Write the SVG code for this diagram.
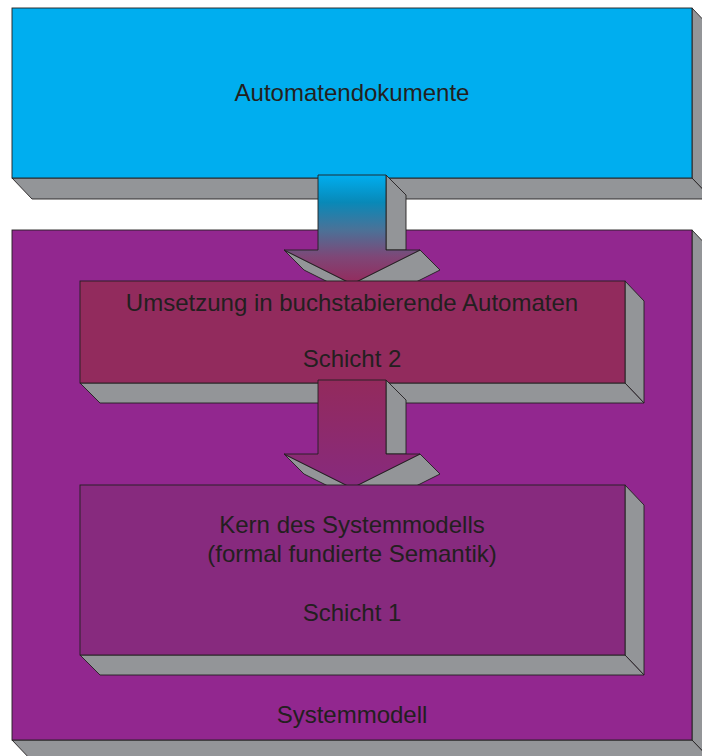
<svg xmlns="http://www.w3.org/2000/svg" width="702" height="756" viewBox="0 0 702 756">
<style>
.s{stroke:#231F20;stroke-width:0.9;stroke-linejoin:miter}
.side{fill:#939598}
.t{font-family:"Liberation Sans",Arial,sans-serif;font-size:24px;fill:#231F20;text-anchor:middle}
</style>
<defs>
<linearGradient id="g1" gradientUnits="userSpaceOnUse" x1="0" y1="175" x2="0" y2="284">
<stop offset="0" stop-color="#00AEEF"/>
<stop offset="0.25" stop-color="#0889B8"/>
<stop offset="0.5" stop-color="#4A7298"/>
<stop offset="0.75" stop-color="#7E4777"/>
<stop offset="1" stop-color="#952A5C"/>
</linearGradient>
<linearGradient id="g2" gradientUnits="userSpaceOnUse" x1="0" y1="380" x2="0" y2="488">
<stop offset="0" stop-color="#932A5C"/>
<stop offset="1" stop-color="#872A7E"/>
</linearGradient>
</defs>
<rect width="702" height="756" fill="#FFFFFF"/>

<g id="node-systemmodell">
<polygon class="s side" points="692,230 712,251 712,761 692,740"/>
<polygon class="s side" points="12,740 32,761 712,761 692,740"/>
<rect class="s" x="12" y="230" width="680" height="510" fill="#92278F"/>
<text class="t" x="352" y="723">Systemmodell</text>
</g>

<g id="node-automatendokumente">
<polygon class="s side" points="692,8 712,29 712,199 692,178"/>
<polygon class="s side" points="12,178 32,199 712,199 692,178"/>
<rect class="s" x="12" y="8" width="680" height="170" fill="#00AEEF"/>
<text class="t" x="352" y="101">Automatendokumente</text>
</g>

<g id="connectors">
<g id="arrow-1">
<polygon class="s side" points="386,175 406,195 406,250 386,250"/>
<polygon class="s side" points="420,250 440,270 372,304 352,284"/>
<polygon class="s side" points="284,250 304,270 372,304 352,284"/>
<polygon class="s" fill="url(#g1)" points="318,175 386,175 386,250 420,250 352,284 284,250 318,250"/>
</g>
</g>

<g id="node-schicht2">
<polygon class="s side" points="625,281 644,301 644,403 625,383"/>
<polygon class="s side" points="80,383 100,403 644,403 625,383"/>
<rect class="s" x="80" y="281" width="545" height="102" fill="#922B5D"/>
<text class="t" x="352" y="311">Umsetzung in buchstabierende Automaten</text>
<text class="t" x="352" y="367">Schicht 2</text>
</g>

<g id="connectors-2">
<g id="arrow-2">
<polygon class="s side" points="386,380 406,400 406,454 386,454"/>
<polygon class="s side" points="420,454 440,474 372,508 352,488"/>
<polygon class="s side" points="284,454 304,474 372,508 352,488"/>
<polygon class="s" fill="url(#g2)" points="318,380 386,380 386,454 420,454 352,488 284,454 318,454"/>
</g>
</g>

<g id="node-schicht1">
<polygon class="s side" points="625,485 644,505 644,675 625,655"/>
<polygon class="s side" points="80,655 100,675 644,675 625,655"/>
<rect class="s" x="80" y="485" width="545" height="170" fill="#872A7E"/>
<text class="t" x="352" y="533">Kern des Systemmodells</text>
<text class="t" x="352" y="562">(formal fundierte Semantik)</text>
<text class="t" x="352" y="621">Schicht 1</text>
</g>
</svg>
